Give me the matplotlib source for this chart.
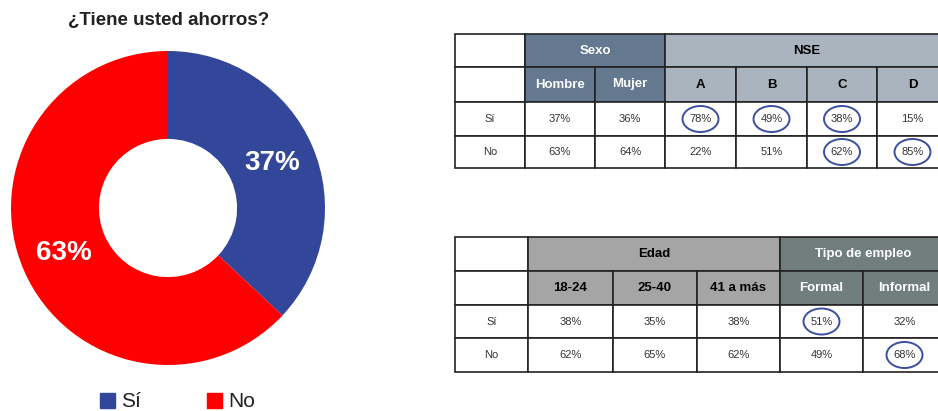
import matplotlib.pyplot as plt
from matplotlib.patches import Rectangle, Ellipse

plt.rcParams['font.family'] = ['Liberation Sans', 'DejaVu Sans']

# Donut data
labels = ["Sí", "No"]
shares = [37, 63]
colors = ["#33479a", "#ff0000"]

# Table 1: Sexo / NSE
t1_groups = [("Sexo", 2, "#64798f", "white"), ("NSE", 4, "#a9b4be", "black")]
t1_cols = ["Hombre", "Mujer", "A", "B", "C", "D"]
t1_si = [37, 36, 78, 49, 38, 15]
t1_no = [63, 64, 22, 51, 62, 85]
t1_circ_si = [2, 3, 4]
t1_circ_no = [4, 5]

# Table 2: Edad / Tipo de empleo
t2_groups = [("Edad", 3, "#a5a5a5", "black"), ("Tipo de empleo", 2, "#707e7d", "white")]
t2_cols = ["18-24", "25-40", "41 a más", "Formal", "Informal"]
t2_si = [38, 35, 38, 51, 32]
t2_no = [62, 65, 62, 49, 68]
t2_circ_si = [3]
t2_circ_no = [4]

W, H = 938, 411
fig = plt.figure(figsize=(W / 100, H / 100), dpi=100)

# canvas axis in pixel coordinates
ax = fig.add_axes([0, 0, 1, 1])
ax.set_xlim(0, W)
ax.set_ylim(H, 0)
ax.axis("off")

# donut
cx, cy, r = 168, 208, 157
dax = fig.add_axes([(cx - r) / W, (H - cy - r) / H, 2 * r / W, 2 * r / H])
wedges, _, autotexts = dax.pie(shares, colors=colors, startangle=90, counterclock=False,
                               wedgeprops=dict(width=0.56, edgecolor="none"),
                               autopct="%d%%", pctdistance=0.72,
                               textprops=dict(color="white", fontsize=20, fontweight="bold"))
dax.set_xlim(-1, 1)
dax.set_ylim(-1, 1)
dax.set_aspect("equal")

ax.text(169, 20, "¿Tiene usted ahorros?", ha="center", va="center",
        fontsize=13.5, fontweight="bold", color="#222222")

# legend
for x0, lab, col in [(100, labels[0], colors[0]), (207, labels[1], colors[1])]:
    ax.add_patch(Rectangle((x0, 393), 15, 15, color=col))
    ax.text(x0 + 21, 401, lab, ha="left", va="center", fontsize=15, color="#222222")


def draw_table(cols_x, rows_y, groups, cols, si, no, circ_si, circ_no):
    edge = "#222222"
    # top-left blanks
    for i in range(2):
        ax.add_patch(Rectangle((cols_x[0], rows_y[i]), cols_x[1] - cols_x[0],
                               rows_y[i + 1] - rows_y[i], fc="white", ec=edge, lw=1.2))
    c = 1
    for name, span, fc, tc in groups:
        x0, x1 = cols_x[c], cols_x[c + span]
        ax.add_patch(Rectangle((x0, rows_y[0]), x1 - x0, rows_y[1] - rows_y[0],
                               fc=fc, ec=edge, lw=1.2))
        ax.text((x0 + x1) / 2, (rows_y[0] + rows_y[1]) / 2, name, ha="center", va="center",
                fontsize=9.5, fontweight="bold", color=tc)
        for k in range(span):
            j = c + k
            ax.add_patch(Rectangle((cols_x[j], rows_y[1]), cols_x[j + 1] - cols_x[j],
                                   rows_y[2] - rows_y[1], fc=fc, ec=edge, lw=1.2))
            ax.text((cols_x[j] + cols_x[j + 1]) / 2, (rows_y[1] + rows_y[2]) / 2, cols[j - 1],
                    ha="center", va="center", fontsize=9.5, fontweight="bold", color=tc)
        c += span
    for ri, (lab, vals, circ) in enumerate([("Sí", si, circ_si), ("No", no, circ_no)]):
        y0, y1 = rows_y[2 + ri], rows_y[3 + ri]
        ym = (y0 + y1) / 2
        ax.add_patch(Rectangle((cols_x[0], y0), cols_x[1] - cols_x[0], y1 - y0,
                               fc="white", ec=edge, lw=1.2))
        ax.text((cols_x[0] + cols_x[1]) / 2, ym, lab, ha="center", va="center",
                fontsize=8, color="#333333")
        for j, v in enumerate(vals):
            x0, x1 = cols_x[j + 1], cols_x[j + 2]
            ax.add_patch(Rectangle((x0, y0), x1 - x0, y1 - y0, fc="white", ec=edge, lw=1.2))
            ax.text((x0 + x1) / 2, ym, f"{v}%", ha="center", va="center",
                    fontsize=8, color="#333333")
            if j in circ:
                ax.add_patch(Ellipse(((x0 + x1) / 2, ym), 36, 26, fc="none",
                                     ec="#3b4ea0", lw=1.4))


draw_table([455, 525, 595, 665, 736, 807, 877, 948], [34, 67, 102, 136, 168],
           t1_groups, t1_cols, t1_si, t1_no, t1_circ_si, t1_circ_no)
draw_table([455, 528, 613, 697, 780, 863, 946], [237, 271, 305, 338, 372],
           t2_groups, t2_cols, t2_si, t2_no, t2_circ_si, t2_circ_no)

fig.savefig("out.png", dpi=100)
